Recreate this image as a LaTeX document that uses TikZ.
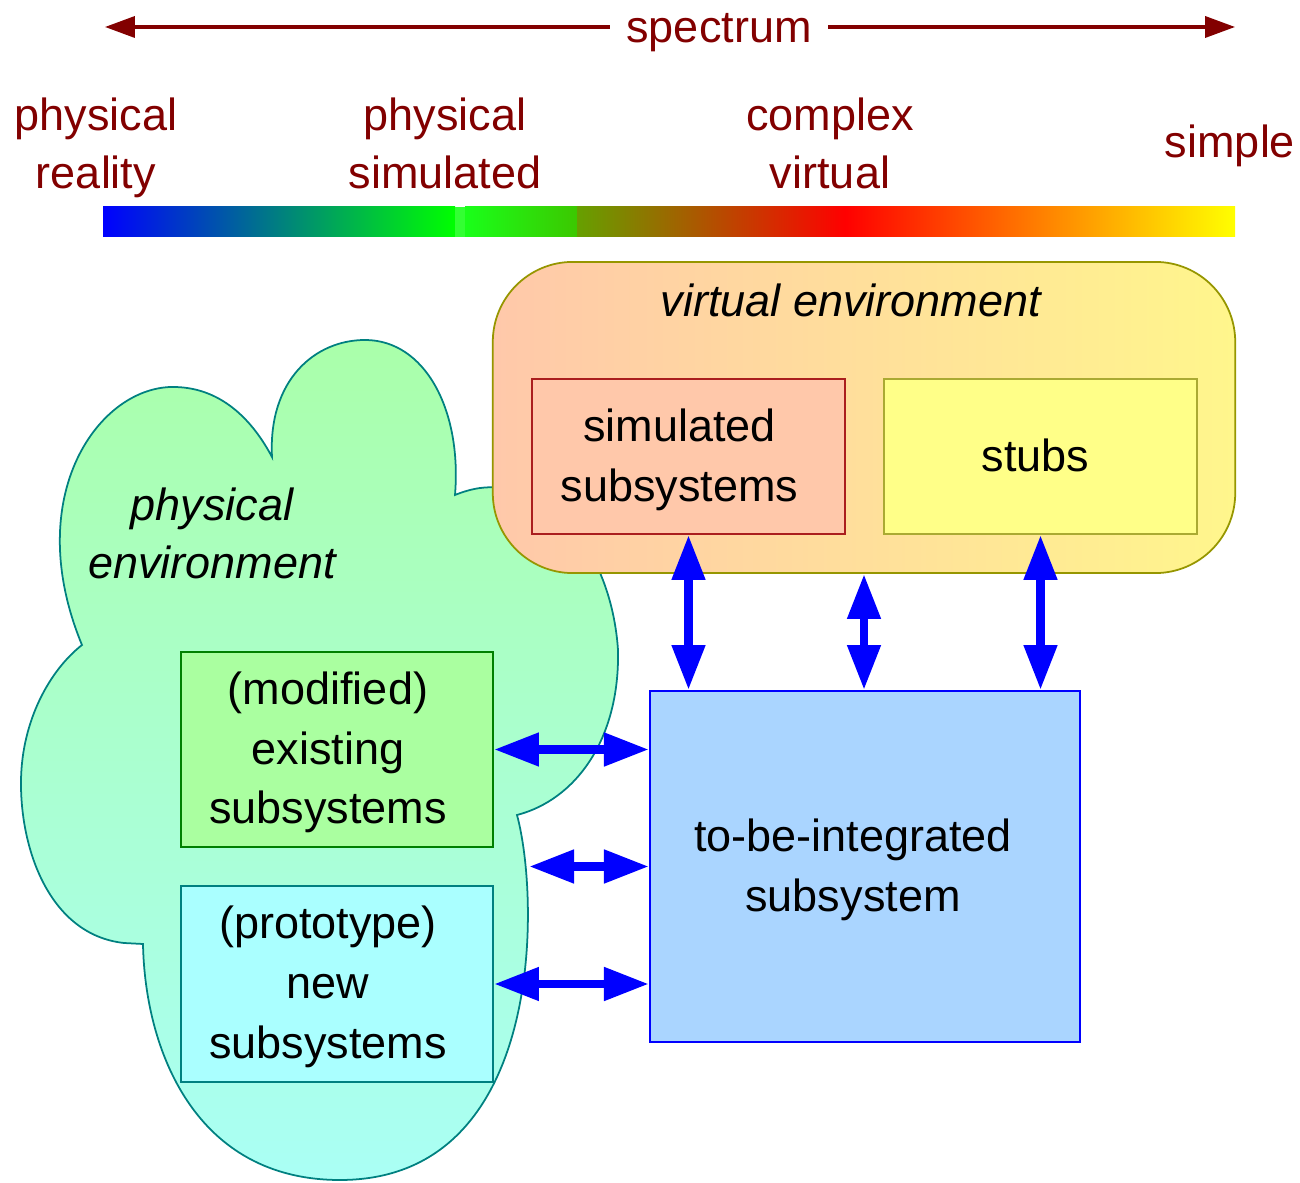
\documentclass[tikz,border=0pt]{standalone}
\usepackage{fontspec}
\setmainfont{Liberation Sans}
\usetikzlibrary{%
  arrows.meta,%
  calc%
}
\definecolor{specred}{RGB}{130,0,0}
\definecolor{simfill}{RGB}{255,200,170}
\definecolor{simline}{RGB}{170,30,30}
\definecolor{stubfill}{RGB}{255,255,136}
\definecolor{stubline}{RGB}{170,170,50}
\definecolor{venvright}{RGB}{255,246,140}
\definecolor{venvline}{RGB}{150,150,0}
\definecolor{tbifill}{RGB}{170,213,255}
\definecolor{modfill}{RGB}{170,255,160}
\definecolor{modline}{RGB}{0,128,0}
\definecolor{protofill}{RGB}{170,255,255}
\definecolor{protoline}{RGB}{0,128,128}
\definecolor{cloudtop}{RGB}{170,255,170}
\definecolor{cloudbot}{RGB}{170,255,245}
\definecolor{cloudline}{RGB}{0,128,128}
\definecolor{barolive}{RGB}{102,160,0}
\definecolor{bargreen}{RGB}{60,200,0}

\tikzset{
  spectxt/.style={text=specred, align=center, font=\fontsize{12.8}{16.5}\selectfont},
  envtxt/.style={align=center, font=\fontsize{12.8}{16.5}\selectfont\itshape},
  subbox/.style={draw, line width=0.5pt, inner sep=0pt},
  boxtxt/.style={align=center, inner sep=0pt, yshift=-0.03cm,
    font=\fontsize{12.8}{17}\selectfont},
  biarrow/.style={draw=blue, line width=2.5pt,
    {Triangle[length=12.8pt,width=9pt]}-{Triangle[length=12.8pt,width=9pt]}},
  specarrow/.style={draw=specred, line width=0.9pt, -{Triangle[length=8.5pt,width=6pt]}}
}

\begin{document}
\begin{tikzpicture}[x=0.01cm,y=-0.01cm]
\useasboundingbox (0,0) rectangle (1300,1183);

% spectrum
\node[spectxt, inner xsep=4.5pt] (spectrum) at (719,33) {spectrum};
\coordinate (specL) at (105,27);
\coordinate (specR) at (1235,27);
\draw[specarrow] (spectrum.west |- specL) -- (specL);
\draw[specarrow] (spectrum.east |- specR) -- (specR);

\node[spectxt] (reality) at (96,148) {physical\\reality};
\node[spectxt] (physsim) at (445,143) {physical\\simulated};
\node[spectxt] (complex) at (830,143) {complex\\virtual};
\node[spectxt] (simple) at (1230,146) {simple};

\shade[left color=blue, right color=green] (103,207) rectangle (455,237);
\shade[left color=green!90!white, right color=bargreen] (465,207) rectangle (577,237);
\shade[left color=barolive, right color=red] (577,207) rectangle (845,237);
\shade[left color=red, right color=yellow] (845,207) rectangle (1235,237);
\fill[green!80!white] (455,207) rectangle (465,237);

% physical environment
\draw[cloudline, line width=0.5pt, top color=cloudtop, bottom color=cloudbot]
  (82,645) .. controls (20,495) and (100,385) .. (175,387)
  .. controls (225,388) and (255,425) .. (272,457)
  .. controls (268,380) and (315,340) .. (365,340)
  .. controls (425,340) and (462,410) .. (455,495)
  .. controls (472,488) and (488,486) .. (500,488)
  .. controls (560,490) and (612,560) .. (618,650)
  .. controls (620,740) and (575,800) .. (517,815)
  .. controls (540,900) and (545,1180) .. (340,1180)
  .. controls (195,1180) and (145,1050) .. (143,944)
  -- (124,943)
  .. controls (50,935) and (20,850) .. (21,780)
  .. controls (22,720) and (50,670) .. (82,645) -- cycle;
\node[envtxt] (physenv) at (212,533) {physical\\environment};

% virtual environment
\node[draw=venvline, line width=0.5pt, rounded corners=0.8cm,
  left color=simfill, right color=venvright,
  minimum width=7.42cm, minimum height=3.11cm] (venv) at (864,417.5) {};
\node[envtxt] (venvlabel) at (851,300) {virtual environment};

\node[subbox, draw=simline, fill=simfill, minimum width=3.13cm, minimum height=1.55cm,
  label={[boxtxt, xshift=-0.09cm]center:{simulated\\subsystems}}]
  (sim) at (688.5,456.5) {};
\node[subbox, draw=stubline, fill=stubfill, minimum width=3.13cm, minimum height=1.55cm,
  label={[boxtxt, xshift=-0.05cm, yshift=0.04cm]center:stubs}]
  (stubs) at (1040.5,456.5) {};

\node[subbox, draw=blue, fill=tbifill, minimum width=4.30cm, minimum height=3.51cm,
  label={[boxtxt, xshift=-0.12cm]center:{to-be-integrated\\subsystem}}]
  (tbi) at (865,866.5) {};

\node[subbox, draw=modline, fill=modfill, minimum width=3.12cm, minimum height=1.95cm,
  label={[boxtxt, xshift=-0.09cm]center:{(modified)\\existing\\subsystems}}]
  (mod) at (337,749.5) {};
\node[subbox, draw=protoline, fill=protofill, minimum width=3.12cm, minimum height=1.96cm,
  label={[boxtxt, xshift=-0.09cm]center:{(prototype)\\new\\subsystems}}]
  (proto) at (337,984) {};

\coordinate (cloudedge) at (529,866.5);

\draw[biarrow] (sim.south) -- (sim.south |- tbi.north);
\draw[biarrow] (venv.south) -- (venv.south |- tbi.north);
\draw[biarrow] (stubs.south) -- (stubs.south |- tbi.north);
\draw[biarrow] (mod.east) -- (mod.east -| tbi.west);
\draw[biarrow] (cloudedge) -- (tbi.west);
\draw[biarrow] (proto.east) -- (proto.east -| tbi.west);
\end{tikzpicture}
\end{document}
